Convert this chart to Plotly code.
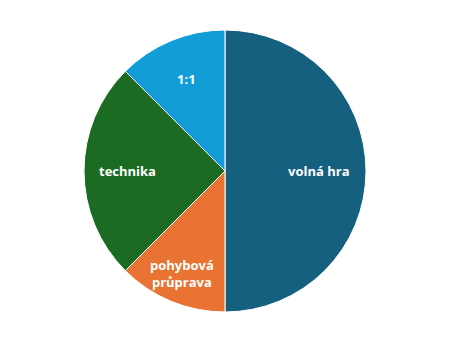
import math
import plotly.graph_objects as go

labels = ["volná hra", "pohybová průprava", "technika", "1:1"]
label_text = ["volná hra", "pohybová<br>průprava", "technika", "1:1"]
values = [50, 12.5, 25, 12.5]
colors = ["#16607f", "#e87332", "#1b6b23", "#129dd6"]
# radial position of each label as a fraction of the radius
label_radius = [0.66, 0.79, 0.69, 0.71]

W, H = 450, 342
M_T, M_B = 30, 30
plot_h = H - M_T - M_B
R_px = plot_h / 2

fig = go.Figure(go.Pie(
    labels=labels,
    values=values,
    sort=False,
    direction="clockwise",
    rotation=0,
    marker=dict(colors=colors, line=dict(color="white", width=1)),
    textinfo="none",
    showlegend=False,
    hoverinfo="label+percent",
))

total = sum(values)
cum = 0
annotations = []
for txt, v, rf in zip(label_text, values, label_radius):
    mid = (cum + v / 2) / total
    cum += v
    th = 2 * math.pi * mid
    dx = rf * R_px * math.sin(th)
    dy = rf * R_px * math.cos(th)
    annotations.append(dict(
        x=0.5 + dx / W, y=0.5 + dy / plot_h,
        xref="paper", yref="paper",
        text=txt, showarrow=False,
        xanchor="center", yanchor="middle",
        font=dict(family="Open Sans, sans-serif", size=13, color="white", weight="bold"),
    ))

fig.update_layout(
    width=W, height=H,
    margin=dict(l=0, r=0, t=M_T, b=M_B),
    paper_bgcolor="white",
    plot_bgcolor="white",
    annotations=annotations,
)
fig.write_html("out.html")
